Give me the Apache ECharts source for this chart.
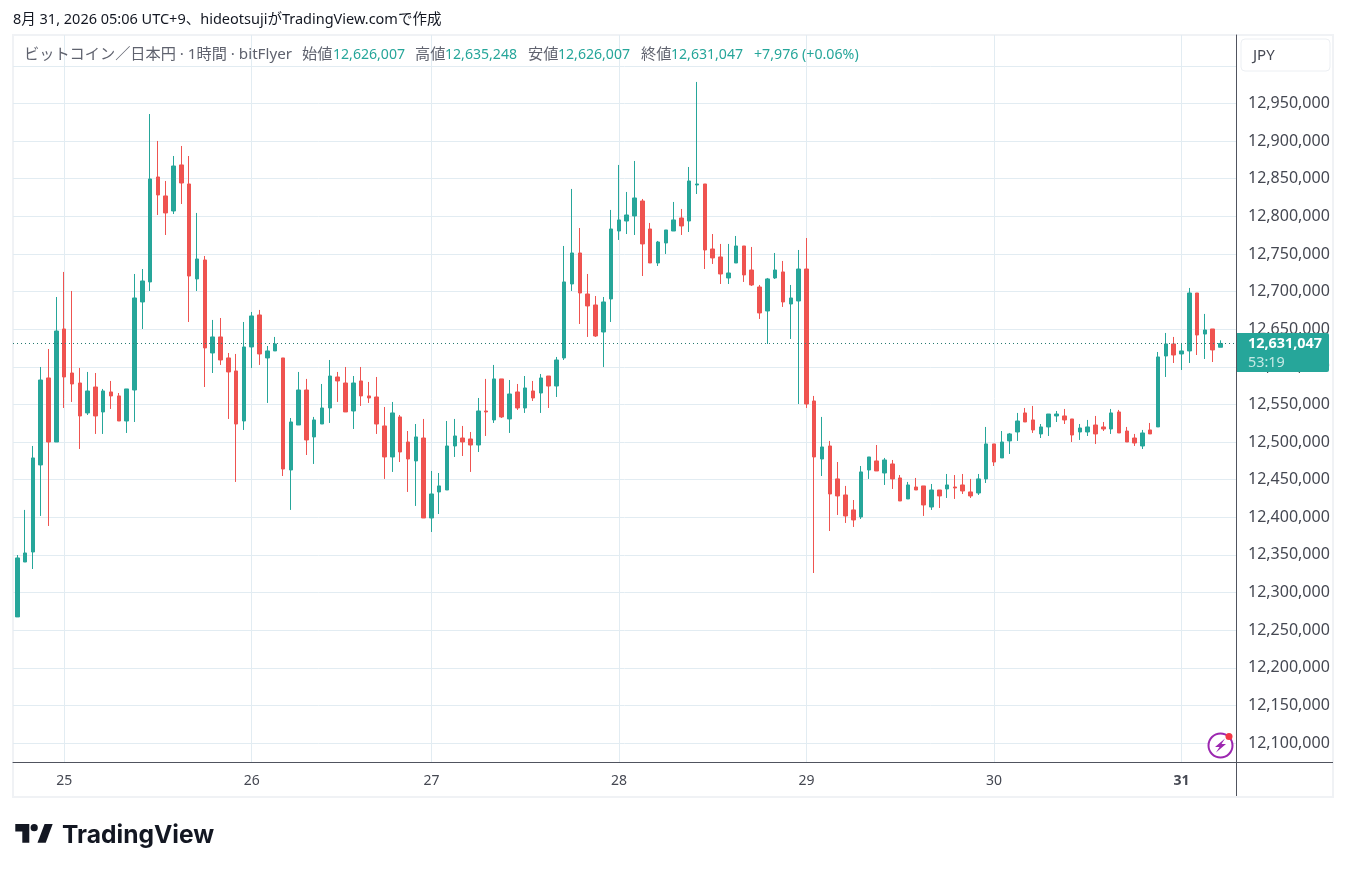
<!DOCTYPE html>
<html><head><meta charset="utf-8">
<style>html,body{margin:0;padding:0;background:#fff}#c{width:1346px;height:872px}</style>
<script src="https://cdn.jsdelivr.net/npm/echarts@6/dist/echarts.min.js"></script>
</head><body><div id="c"></div>
<script>
const opens=[12267600,12340600,12353900,12469600,12585200,12500100,12650300,12591800,12578500,12538700,
12573200,12540000,12566600,12561300,12528000,12569200,12686200,12712800,12852300,12827100,
12807100,12868300,12843000,12716800,12742000,12618400,12639700,12611800,12594500,12528000,
12626400,12668900,12611800,12621100,12611800,12462900,12522700,12569200,12506800,12524000,
12545300,12586500,12578500,12541300,12581200,12561300,12559900,12521400,12480200,12533400,
12500100,12474900,12505400,12399100,12433700,12436300,12494800,12505400,12504100,12496100,
12541300,12529400,12583900,12530700,12566600,12545300,12567900,12565200,12587800,12574500,
12611800,12710100,12751300,12696800,12682200,12646300,12690200,12780500,12793800,12800500,
12820400,12783200,12738000,12764600,12780500,12797800,12793800,12841700,12843000,12756600,
12746000,12718100,12738000,12760600,12728700,12706100,12674200,12718100,12726100,12683500,
12687500,12730000,12554600,12477500,12494800,12451000,12429700,12409800,12400500,12462900,
12474900,12458900,12470900,12452300,12424400,12440300,12441700,12413700,12436300,12437700,
12440300,12443000,12433700,12432300,12451000,12497500,12478900,12501500,12513400,12538700,
12529400,12510800,12520100,12534700,12534700,12530700,12513400,12513400,12522700,12520100,
12517400,12540000,12514700,12505400,12494800,12516100,12520100,12614400,12630400,12617100,
12621100,12698100,12643600,12650300,12626007];
const closes=[12346000,12352600,12478900,12582500,12500100,12647600,12586500,12577200,12534700,12567900,
12534700,12567900,12561300,12528000,12570600,12691500,12714100,12849700,12828400,12804500,
12866900,12844300,12720700,12743300,12625100,12639700,12609100,12593200,12524000,12626400,
12667600,12617100,12621100,12630400,12464200,12526700,12569200,12502800,12529400,12545300,
12587800,12581200,12540000,12578500,12561300,12558600,12524000,12480200,12538700,12486800,
12477500,12506800,12399100,12431000,12441700,12494800,12508100,12500100,12496100,12541300,
12540000,12583900,12533400,12563900,12545300,12571900,12558600,12585200,12574500,12609100,
12712800,12751300,12698100,12680900,12641000,12686200,12783200,12795200,12801800,12824400,
12763300,12738000,12765900,12781900,12795200,12787200,12847000,12843000,12755300,12744700,
12723400,12724700,12760600,12722100,12708800,12671600,12716800,12728700,12686200,12691500,
12730000,12550600,12480200,12493500,12431000,12428400,12401800,12396500,12460300,12480200,
12461600,12476200,12451000,12421700,12443000,12436300,12416400,12436300,12428400,12443000,
12439000,12435000,12428400,12451000,12497500,12473500,12500100,12510800,12528000,12526700,
12516100,12520100,12537300,12537300,12529400,12509400,12518700,12520100,12510800,12517400,
12538700,12512100,12500100,12498800,12512100,12510800,12613100,12630400,12615700,12621100,
12698100,12642300,12649000,12622400,12631047];
const lows=[12267600,12340600,12331300,12401800,12388500,12500100,12545300,12553300,12490800,12536000,
12510800,12510800,12544000,12528000,12512100,12526700,12650300,12700800,12801800,12775200,
12803100,12816400,12659600,12700800,12573200,12591800,12602500,12530700,12447000,12516100,
12598500,12602500,12552000,12621100,12454900,12409800,12522700,12482800,12470900,12524000,
12525400,12553300,12540000,12517400,12548000,12552000,12510800,12451000,12460300,12473500,
12433700,12415100,12399100,12380500,12404400,12436300,12480200,12481500,12460300,12486800,
12508100,12525400,12532000,12512100,12542700,12538700,12554600,12538700,12545300,12559900,
12609100,12700800,12656900,12639700,12639700,12599800,12659600,12768600,12776500,12775200,
12720700,12738000,12734000,12750000,12780500,12775200,12779200,12829700,12730000,12736700,
12710100,12710100,12738000,12712800,12707400,12663600,12630400,12716800,12679600,12637000,
12550600,12545300,12326000,12454900,12381800,12403100,12392500,12387200,12397800,12451000,
12461600,12443000,12437700,12421700,12424400,12436300,12401800,12409800,12412400,12425700,
12424400,12431000,12425700,12429700,12445600,12468200,12478900,12484200,12501500,12526700,
12512100,12505400,12508100,12526700,12524000,12500100,12502800,12508100,12497500,12514700,
12510800,12512100,12500100,12494800,12490800,12510800,12520100,12586500,12605100,12595800,
12605100,12615700,12610400,12606400,12626007];
const highs=[12349900,12409800,12494800,12599800,12623700,12692800,12726100,12700800,12598500,12593200,
12591800,12570600,12581200,12565200,12570600,12723400,12730000,12936000,12900200,12847000,
12880200,12893500,12880200,12804500,12747300,12662300,12664900,12618400,12617100,12659600,
12672900,12675600,12627700,12639700,12611800,12532000,12593200,12583900,12533400,12577200,
12609100,12593200,12599800,12587800,12599800,12579900,12586500,12546600,12553300,12536000,
12514700,12524000,12530700,12461600,12458900,12528000,12530700,12521400,12513400,12558600,
12583900,12602500,12583900,12582500,12577200,12587800,12581200,12590500,12587800,12613100,
12760600,12836400,12784500,12723400,12694100,12692800,12808500,12868300,12832400,12873600,
12823100,12791200,12767300,12781900,12819100,12809800,12865600,12978600,12843000,12776500,
12763300,12763300,12773900,12760600,12759300,12708800,12718100,12751300,12740700,12708800,
12755300,12771200,12561300,12533400,12501500,12473500,12441700,12423000,12468200,12480200,
12496100,12478900,12476200,12456200,12447000,12452300,12441700,12444300,12436300,12457600,
12456200,12457600,12451000,12457600,12520100,12497500,12514700,12512100,12538700,12545300,
12548000,12524000,12537300,12541300,12544000,12530700,12524000,12529400,12534700,12526700,
12544000,12542700,12520100,12510800,12516100,12525400,12619700,12645000,12639700,12631700,
12704800,12698100,12670300,12650300,12635248];
const dayTicks=[6,30,53,77,101,125,149];
const dayLabels=['25','26','27','28','29','30','31'];
const priceLabels=[12100000,12150000,12200000,12250000,12300000,12350000,12400000,12450000,12500000,12550000,12600000,12650000,12700000,12750000,12800000,12850000,12900000,12950000];
const priceGrid=priceLabels.concat([13000000]);
const captionText='8月 31, 2026 05:06 UTC+9、hideotsujiがTradingView.comで作成';
const symbolText='ビットコイン／日本円 · 1時間 · bitFlyer';
const ohlcNames=['始値','高値','安値','終値'];
const ohlcValues=['12,626,007','12,635,248','12,626,007','12,631,047'];
const changeText='+7,976 (+0.06%)';
const lastPrice=closes[closes.length-1];

const UP='#26a69a',DOWN='#ef5350',GRID='#e2ecf2',AXIS='#50535e',TEXT='#454852';
const FONT='"Noto Sans","Noto Sans CJK JP",sans-serif';
const fmt=v=>Number(v).toLocaleString('en-US');

const chart=echarts.init(document.getElementById('c'),null,{renderer:'canvas'});
const candles=opens.map((o,i)=>[i,o,closes[i],lows[i],highs[i]]);
chart.setOption({
  animation:false,
  backgroundColor:'#fff',
  grid:{left:13,top:35,width:1223,height:727,containLabel:false},
  xAxis:{type:'value',min:-0.55,max:155.98,
    axisLine:{onZero:false,lineStyle:{color:AXIS,width:1}},
    axisTick:{show:false,customValues:dayTicks},
    axisLabel:{customValues:dayTicks,margin:12,fontSize:14,fontFamily:FONT,color:TEXT,
      formatter:v=>{const s=dayLabels[dayTicks.indexOf(v)]||'';return s==='31'?'{b|'+s+'}':s;},
      rich:{b:{fontSize:14,fontWeight:700,fontFamily:FONT,color:TEXT}}},
    splitLine:{show:true,lineStyle:{color:GRID,width:1}}},
  yAxis:{type:'value',position:'right',min:12074800,max:13041000,scale:true,
    axisLine:{show:true,onZero:false,lineStyle:{color:AXIS,width:1}},
    axisTick:{show:false,customValues:priceGrid},
    axisLabel:{customValues:priceLabels,margin:12,fontSize:16,fontFamily:FONT,color:TEXT,formatter:v=>fmt(v)},
    splitLine:{show:true,lineStyle:{color:GRID,width:1}}},
  series:[{type:'candlestick',data:candles,encode:{x:0,y:[1,2,3,4]},barWidth:4,
    itemStyle:{color:UP,color0:DOWN,borderColor:UP,borderColor0:DOWN,borderWidth:1},
    markLine:{silent:true,symbol:'none',label:{show:false},animation:false,
      lineStyle:{color:'#26786f',type:[1,3],width:1},
      data:[{yAxis:lastPrice}]}}]
});

const tagY=chart.convertToPixel({yAxisIndex:0},lastPrice);
const txt=(x,y,text,size,fill,extra)=>Object.assign({type:'text',z:10,x,y,silent:true,style:Object.assign({text,fontSize:size,fontFamily:FONT,fill},extra||{})});
const nameX=[302,415,528,641], valueX=[333,445,558,671];
const GREY='#5f626e';
const header=[txt(24,47.5,symbolText,15.2,GREY)];
ohlcNames.forEach((n,k)=>{header.push(txt(nameX[k],47.5,n,15.2,GREY));header.push(txt(valueX[k],48,ohlcValues[k],14.1,UP));});
header.push(txt(754,48,changeText,14.2,UP));
const INK='#131722';
chart.setOption({graphic:[
  {type:'rect',z:-1,silent:true,shape:{x:13,y:35,width:1320,height:762},style:{fill:'none',stroke:'#f0f2f5',lineWidth:2}},
  {type:'line',z:5,silent:true,shape:{x1:13,y1:762.5,x2:1333,y2:762.5},style:{stroke:AXIS,lineWidth:1}},
  {type:'line',z:5,silent:true,shape:{x1:1236.5,y1:35,x2:1236.5,y2:796},style:{stroke:AXIS,lineWidth:1}},
  txt(13,12.5,captionText,14.5,INK),
  ...header,
  {type:'rect',z:10,silent:true,shape:{x:1241,y:39,width:89,height:32,r:4},style:{fill:'#fff',stroke:'#eceff3',lineWidth:1}},
  Object.assign(txt(1253,48.5,'JPY',15,TEXT),{z:11}),
  {type:'rect',z:12,silent:true,shape:{x:1237,y:tagY-10.5,width:92,height:39,r:[0,2,2,0]},style:{fill:UP}},
  Object.assign(txt(1248,tagY-7,fmt(lastPrice),14.4,'#fff',{fontWeight:700}),{z:13}),
  Object.assign(txt(1248,tagY+12,'53:19',14.4,'#c6e9e5'),{z:13}),
  {type:'circle',z:13,silent:true,shape:{cx:1220.5,cy:745.5,r:12},style:{fill:'#fff',stroke:'#9c27b0',lineWidth:2}},
  {type:'polygon',z:14,silent:true,shape:{points:[[1225,738.5],[1215,747],[1219.5,747],[1216,752.5],[1226,744],[1221.5,744]]},style:{fill:'#9c27b0'}},
  {type:'circle',z:15,silent:true,shape:{cx:1229,cy:736.5,r:3.5},style:{fill:'#f23645'}},
  {type:'polygon',z:10,silent:true,shape:{points:[[15.3,824],[29.3,824],[29.3,842.7],[22.3,842.7],[22.3,831.5],[15.3,831.5]]},style:{fill:INK}},
  {type:'circle',z:10,silent:true,shape:{cx:34.2,cy:827.7,r:3.6},style:{fill:INK}},
  {type:'polygon',z:10,silent:true,shape:{points:[[44.6,824],[52.7,824],[45.7,842.7],[37.5,842.7]]},style:{fill:INK}},
  {type:'text',z:10,x:62,y:823,silent:true,style:{text:'TradingView',fontSize:24.6,fontWeight:700,fontFamily:'Inter,Roboto,sans-serif',fill:INK}}
]});
</script></body></html>
